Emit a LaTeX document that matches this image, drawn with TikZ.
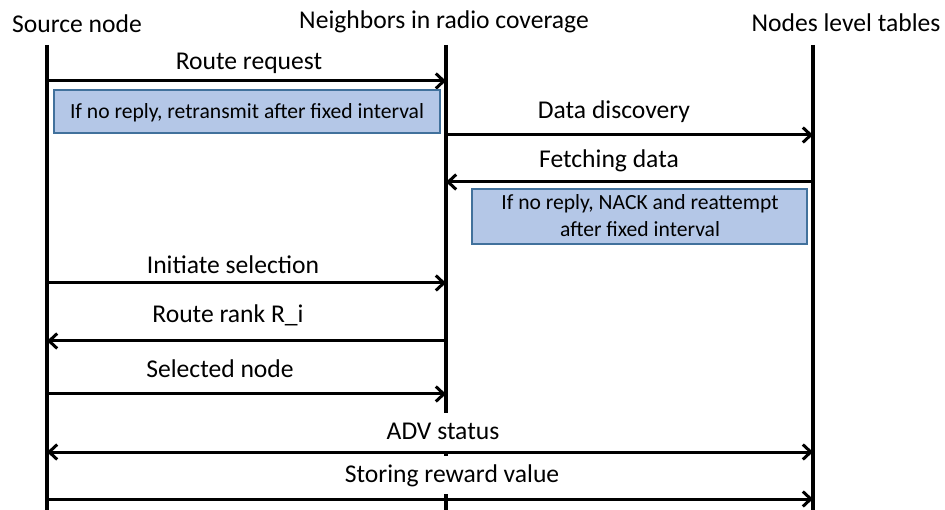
\documentclass[tikz,border=0pt]{standalone}
\usepackage{fontspec}
\setmainfont{Carlito}
\usepackage{tikz}
\usetikzlibrary{arrows.meta, calc}

\definecolor{notefill}{HTML}{B4C7E7}
\definecolor{noteline}{HTML}{41719C}

\begin{document}
\begin{tikzpicture}[x=1pt, y=-1pt,
	>={Straight Barb[length=8pt, width=15pt]},
	life/.style={line width=3.2pt},
	msg/.style={line width=3pt, ->},
	lbl/.style={font=\fontsize{25.6}{30}\selectfont, anchor=base, inner sep=0pt},
	cover/.style={lbl, fill=white, text height=20pt, text depth=6pt, inner ysep=6pt, inner xsep=4pt},
	note/.style={fill=notefill, draw=noteline, line width=1.2pt, font=\fontsize{21.6}{27}\selectfont, align=center, inner sep=0pt}]

	\useasboundingbox (0,0) rectangle (945,510);

	% lifelines: top and bottom ends
	\coordinate (S) at (47,45);
	\coordinate (N) at (446,45);
	\coordinate (T) at (813,45);
	\coordinate (Sb) at (47,510);
	\coordinate (Nb) at (446,510);
	\coordinate (Tb) at (813,510);

	\node[lbl] (srcname) at (77,33) {Source node};
	\node[lbl] (nbrname) at (444,29) {Neighbors in radio coverage};
	\node[lbl] (tblname) at (846,32) {Nodes level tables};

	\draw[life] (S) -- (Sb);
	\draw[life] (N) -- (Nb);
	\draw[life] (T) -- (Tb);

	% discovery phase
	\draw[msg] (S |- 0,81) -- (N |- 0,81);
	\node[lbl] (req) at (249,70) {Route request};
	\node[note, minimum width=386pt, minimum height=43pt] (retry) at (247,111.5) {};
	\node[font=\fontsize{21.6}{27}\selectfont, anchor=base] (retrytxt) at (247,119) {If no reply, retransmit after fixed interval};

	\draw[msg] (N |- 0,135) -- (T |- 0,135);
	\node[lbl] (disc) at (614,119) {Data discovery};
	\draw[msg] (T |- 0,182) -- (N |- 0,182);
	\node[lbl] (fetch) at (609,168) {Fetching data};
	\node[note, minimum width=335pt, minimum height=55pt] (nack) at (639.5,216.5) {};
	\node[font=\fontsize{21.6}{27}\selectfont, anchor=base] (nacktxt1) at (640,210) {If no reply, NACK and reattempt};
	\node[font=\fontsize{21.6}{27}\selectfont, anchor=base] (nacktxt2) at (640,237) {after fixed interval};

	% selection phase
	\draw[msg] (S |- 0,283) -- (N |- 0,283);
	\node[lbl] (init) at (233,274) {Initiate selection};
	\draw[msg] (N |- 0,341) -- (S |- 0,341);
	\node[lbl] (rank) at (228,323) {Route rank R\_i};
	\draw[msg] (S |- 0,394) -- (N |- 0,394);
	\node[lbl] (sel) at (220,378) {Selected node};

	% advertisement and reward
	\node[cover] (adv) at (443,439) {ADV status};
	\draw[msg, <->] (S |- 0,452) -- (T |- 0,452);
	\node[cover] (store) at (452,482) {Storing reward value};
	\draw[msg] (S |- 0,499) -- (T |- 0,499);

\end{tikzpicture}
\end{document}
